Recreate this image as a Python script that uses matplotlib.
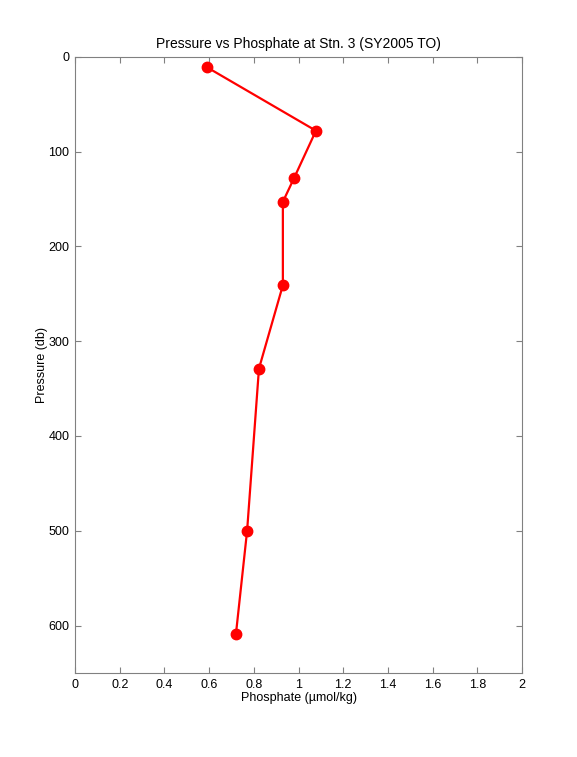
import numpy as np
import matplotlib
matplotlib.use("Agg")
import matplotlib.pyplot as plt

# Station 3 profile (SY2005 TO)
pressure = [11, 78, 128, 153, 241, 329, 500, 609]
phosphate = [0.59, 1.078, 0.98, 0.93, 0.93, 0.823, 0.77, 0.72]

x_ticks = [0, 0.2, 0.4, 0.6, 0.8, 1, 1.2, 1.4, 1.6, 1.8, 2]
x_labels = ["0", "0.2", "0.4", "0.6", "0.8", "1", "1.2", "1.4", "1.6", "1.8", "2"]
y_ticks = [0, 100, 200, 300, 400, 500, 600]

plt.rcParams['font.family'] = ['Liberation Sans', 'DejaVu Sans']

fig = plt.figure(figsize=(5.77, 7.57), dpi=100)
ax = fig.add_axes([0.130, 0.111, 0.7747, 0.814])

ax.plot(phosphate, pressure, color='red', linewidth=1.6,
        marker='o', markersize=7.5, markerfacecolor='red', markeredgecolor='red')

ax.set_xlim(0, 2)
ax.set_ylim(650, 0)
ax.set_xticks(x_ticks)
ax.set_xticklabels(x_labels)
ax.set_yticks(y_ticks)

# matlab style axes: ticks inside on all sides, grey box
for spine in ax.spines.values():
    spine.set_color('#808080')
    spine.set_linewidth(0.8)
ax.tick_params(direction='in', top=True, right=True, length=4.5,
               width=0.8, color='#808080', labelsize=9, labelcolor='black', pad=4)

ax.set_title("Pressure vs Phosphate at Stn. 3 (SY2005 TO)", fontsize=10, pad=6)
ax.set_xlabel("Phosphate (\u00b5mol/kg)", fontsize=9, labelpad=1)
ax.set_ylabel("Pressure (db)", fontsize=9, labelpad=0)

fig.savefig("out.png", dpi=100)
plt.close()
